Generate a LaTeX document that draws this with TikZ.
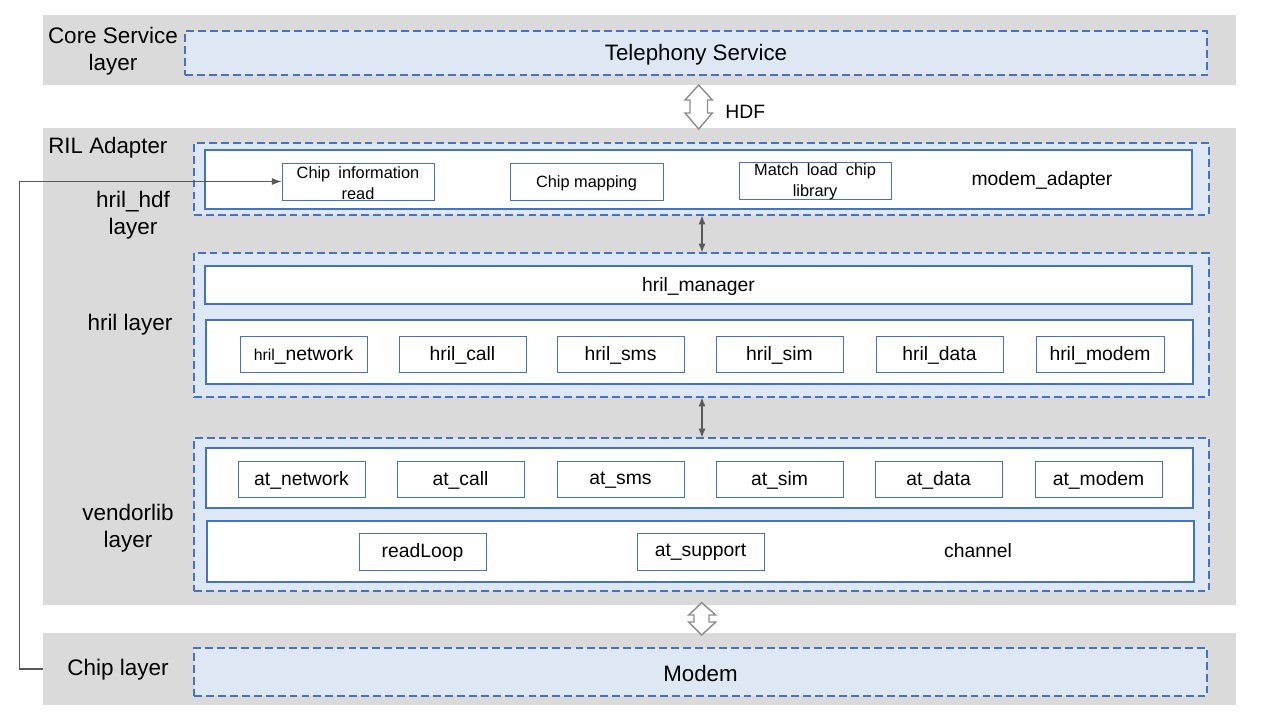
\documentclass[tikz,border=0pt]{standalone}
\usepackage{fontspec}
\setmainfont{Liberation Sans}
\usetikzlibrary{arrows.meta,fit}
\definecolor{bandgray}{HTML}{DADADA}
\definecolor{lineblue}{HTML}{4472C4}
\definecolor{paleblue}{HTML}{DEE8F5}
\definecolor{arrowgray}{HTML}{595959}
\definecolor{hollowgray}{HTML}{8C8C8C}
\tikzset{
  band/.style={fill=bandgray, draw=none, inner sep=0pt},
  dashbox/.style={draw=lineblue, fill=paleblue, line width=0.6pt, dash pattern=on 4.5pt off 2.3pt, inner sep=0pt},
  panel/.style={draw=lineblue, fill=white, line width=0.6pt, inner sep=0pt},
  modbox/.style={draw=lineblue, fill=white, line width=0.55pt, inner sep=0pt},
  % centred captions for fitted boxes
  bigtxt/.style={label={[inner sep=0pt, yshift=-0.9pt, font=\fontsize{12.7pt}{15pt}\selectfont]center:#1}},
  modtxt/.style={label={[inner sep=0pt, yshift=-0.6pt, font=\fontsize{11pt}{13pt}\selectfont]center:#1}},
  chiptxt/.style={label={[inner sep=0pt, yshift=-0.9pt, align=center, font=\fontsize{9.3pt}{11.8pt}\selectfont]center:#1}},
  layerlbl/.style={align=center, font=\fontsize{12.8pt}{15.4pt}\selectfont, inner sep=0pt},
  headlbl/.style={font=\fontsize{12.7pt}{15pt}\selectfont, inner sep=0pt},
  plainlbl/.style={font=\fontsize{11pt}{13pt}\selectfont, inner sep=0pt},
  sarrow/.style={draw=arrowgray, line width=0.7pt, {Latex[length=5pt,width=4pt]}-{Latex[length=5pt,width=4pt]}},
  hollow/.style={draw=hollowgray, fill=white, line width=0.8pt, line join=miter},
  fb/.style={draw=arrowgray, line width=0.6pt, -{Latex[length=5.5pt,width=4pt]}},
}
\begin{document}
\begin{tikzpicture}[x=0.02cm, y=-0.02cm]
\useasboundingbox (0,0) rectangle (1280,720);

% layer bands
\node[band, fit={(43,15)(1236,85)}] (coreband) {};
\node[band, fit={(43,128)(1236,605)}] (rilband) {};
\node[band, fit={(43,633)(1236,705)}] (chipband) {};

% core service layer
\node[layerlbl] (corelbl) at (113,51.5) {Core Service\\layer};
\node[dashbox, fit={(185,31)(1207,75)}, bigtxt={Telephony Service}] (tel) {};

% HDF hollow double arrow
\draw[hollow] (698.7,85) -- (712.3,100) -- (707.5,100) -- (707.5,113) -- (712.3,113)
  -- (698.7,129) -- (685,113) -- (690,113) -- (690,100) -- (685,100) -- cycle;
\node[plainlbl, anchor=west] (hdf) at (725,112) {HDF};

% RIL adapter
\node[headlbl, anchor=west] (rillbl) at (48,148) {RIL Adapter};

% hril_hdf layer
\node[layerlbl] (hdflbl) at (133,215.5) {hril\_hdf\\layer};
\node[dashbox, fit={(194,143)(1209,215)}] (hdfo) {};
\node[panel, fit={(205,150)(1192,209)}] (hdfi) {};
\node[modbox, fit={(282,163)(434,200)}, chiptxt={Chip\hspace{0.5em}information\\read}] (chipread) {};
\node[modbox, fit={(510,163)(663,200)}, chiptxt={Chip mapping}] (chipmap) {};
\node[modbox, fit={(739,162)(891,199)}, chiptxt={Match\hspace{0.5em}load\hspace{0.5em}chip\\library}] (chipload) {};
\node[plainlbl] (madapt) at (1042,181) {modem\_adapter};

% hril layer
\node[layerlbl] (hrillbl) at (130,325) {hril layer};
\node[dashbox, fit={(194,253)(1209,397)}] (hrilo) {};
\node[panel, fit={(205,266)(1192,304)}, modtxt={hril\_manager}] (hmgr) {};
\node[panel, fit={(206,320)(1193,384)}] (hrili) {};
\node[modbox, fit={(240,336)(367,372)}, modtxt={{\fontsize{9pt}{11pt}\selectfont hril}\_network}] (hnet) {};
\node[modbox, fit={(399,336)(526,372)}, modtxt={hril\_call}] (hcall) {};
\node[modbox, fit={(557,336)(684,372)}, modtxt={hril\_sms}] (hsms) {};
\node[modbox, fit={(716,336)(843,372)}, modtxt={hril\_sim}] (hsim) {};
\node[modbox, fit={(876,336)(1003,372)}, modtxt={hril\_data}] (hdata) {};
\node[modbox, fit={(1036,336)(1164,372)}, modtxt={hril\_modem}] (hmodem) {};

% vendorlib layer
\node[layerlbl] (venlbl) at (128,528.5) {vendorlib\\layer};
\node[dashbox, fit={(194,438)(1209,591)}] (veno) {};
\node[panel, fit={(206,448)(1193,508)}] (veni) {};
\node[modbox, fit={(238,461)(365,497)}, modtxt={at\_network}] (anet) {};
\node[modbox, fit={(397,461)(524,497)}, modtxt={at\_call}] (acall) {};
\node[modbox, fit={(557,461)(684,497)}, modtxt={at\_sms}] (asms) {};
\node[modbox, fit={(716,461)(843,497)}, modtxt={at\_sim}] (asim) {};
\node[modbox, fit={(875,461)(1002,497)}, modtxt={at\_data}] (adata) {};
\node[modbox, fit={(1035,461)(1162,497)}, modtxt={at\_modem}] (amodem) {};
\node[panel, fit={(207,521)(1194,582)}] (venj) {};
\node[modbox, fit={(359,533)(486,570)}, modtxt={readLoop}] (rloop) {};
\node[modbox, fit={(637,533)(764,570)}, modtxt={at\_support}] (asup) {};
\node[plainlbl] (chan) at (978,551) {channel};

% links between layers
\coordinate (ax) at (702,0);
\draw[sarrow] (hdfo.south -| ax) -- (hrilo.north -| ax);
\draw[sarrow] (hrilo.south -| ax) -- (veno.north -| ax);

% hollow double arrow to chip layer
\draw[hollow] (701.7,602.7) -- (715.7,615) -- (709,615) -- (709,622) -- (715.7,622)
  -- (701.7,635) -- (688.7,622) -- (694,622) -- (694,615) -- (688.7,615) -- cycle;

% chip layer
\node[layerlbl] (chiplbl) at (118,670) {Chip layer};
\node[dashbox, fit={(194,648)(1207,696)}, bigtxt={Modem}] (modem) {};

% chip information feedback path
\draw[fb] (chipband.west) -- ++(-23,0) |- (chipread.west);
\end{tikzpicture}
\end{document}
